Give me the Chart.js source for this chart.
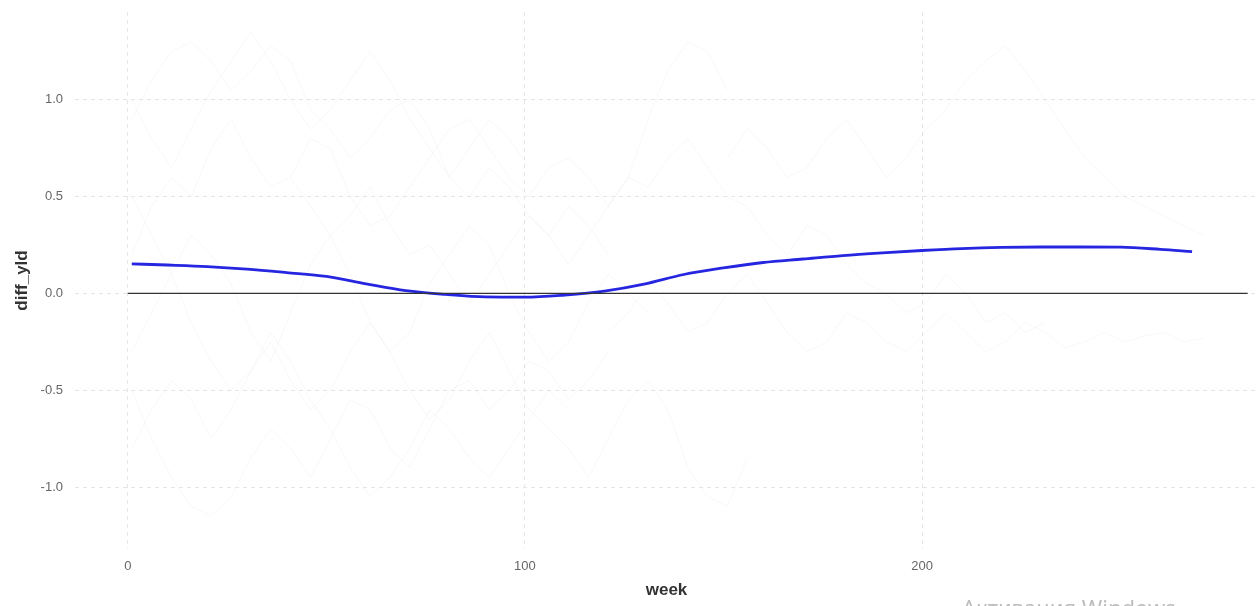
<!DOCTYPE html>
<html>
<head>
<meta charset="utf-8">
<script src="https://cdn.jsdelivr.net/npm/chart.js@4/dist/chart.umd.min.js"></script>
<style>
  html, body { margin: 0; padding: 0; background: #fff; overflow: hidden; }
  #wrap { position: relative; width: 1258px; height: 606px; overflow: hidden; }
  #note { position: absolute; left: 962px; top: 596px; font: 22px/1 "Noto Sans", sans-serif;
          color: #bdbdbd; white-space: nowrap; }
</style>
</head>
<body>
<div id="wrap">
  <canvas id="c" width="1258" height="606"></canvas>
  <div id="note">Активация Windows</div>
</div>
<script>
// Axis ticks
const xTicks = [0, 100, 200];
const yTicks = [-1.0, -0.5, 0.0, 0.5, 1.0];

// Smoothed trend of diff_yld by week
const trendWeeks  = [1, 10, 20, 30, 40, 50, 60, 70, 80, 90, 100, 110, 120, 130, 140,
                     150, 160, 170, 180, 190, 200, 210, 220, 230, 240, 250, 260, 268];
const trendValues = [0.153, 0.147, 0.139, 0.126, 0.108, 0.088, 0.05, 0.015, -0.005, -0.018,
                     -0.019, -0.008, 0.012, 0.048, 0.098, 0.132, 0.16, 0.178, 0.196, 0.21,
                     0.222, 0.232, 0.238, 0.24, 0.24, 0.239, 0.228, 0.216];

// Reference line at zero
const zeroWeeks = [0, 282];
const zeroValues = [0, 0];

// Individual diff_yld paths, sampled every 5 weeks from their first week
const pathStep = 5;
const pathA = { start: 1, values: [0.9,1.1,1.25,1.3,1.2,1.05,1.15,1.28,1.2,0.95,0.85,0.7,0.8,0.95,1.0,0.85,0.6,0.5,0.65,0.55,0.4,0.3,0.45,0.35,0.2] };
const pathB = { start: 1, values: [0.2,0.45,0.6,0.5,0.75,0.9,0.7,0.55,0.6,0.8,0.75,0.5,0.35,0.4,0.55,0.7,0.85,0.9,0.75,0.6,0.5,0.65,0.7,0.6,0.45,0.6,0.9,1.15,1.3,1.25,1.05] };
const pathC = { start: 1, values: [-0.3,-0.1,0.1,0.3,0.2,0.05,-0.2,-0.35,-0.1,0.15,0.3,0.1,-0.15,-0.3,-0.2,0.05,0.2,0.35,0.25,0.0,-0.2,-0.35,-0.25,-0.05,0.1,0.0,-0.1] };
const pathD = { start: 1, values: [-0.5,-0.75,-0.95,-1.1,-1.15,-1.05,-0.85,-0.7,-0.8,-0.95,-0.75,-0.55,-0.6,-0.8,-0.9,-0.7,-0.5,-0.45,-0.6,-0.5,-0.35,-0.4,-0.55,-0.45,-0.3] };
const pathE = { start: 1, values: [0.5,0.3,0.1,-0.15,-0.35,-0.5,-0.4,-0.25,-0.45,-0.6,-0.5,-0.3,-0.15,-0.3,-0.5,-0.65,-0.55,-0.35,-0.2,-0.4,-0.6,-0.7,-0.8,-0.95,-0.75,-0.55,-0.45,-0.6,-0.9,-1.05,-1.1,-0.85] };
const pathF = { start: 41, values: [0.6,0.45,0.3,0.4,0.55,0.35,0.2,0.25,0.1,-0.05,0.1,0.25,0.4,0.3,0.15,0.3,0.45,0.6,0.55,0.7,0.8,0.65,0.5,0.45,0.3,0.2,0.35,0.3,0.15,0.05,0.0,-0.1,-0.05,0.1,0.0,-0.15,-0.1,-0.2,-0.15] };
const pathG = { start: 151, values: [0.7,0.85,0.75,0.6,0.65,0.8,0.9,0.75,0.6,0.7,0.85,0.95,1.1,1.2,1.28,1.15,1.0,0.85,0.7,0.6,0.5,0.45,0.4,0.35,0.3] };
const pathH = { start: 121, values: [-0.2,-0.1,0.05,-0.05,-0.2,-0.15,0.0,0.1,-0.05,-0.2,-0.3,-0.25,-0.1,-0.15,-0.25,-0.3,-0.2,-0.1,-0.2,-0.3,-0.25,-0.15,-0.2,-0.28,-0.25,-0.2,-0.25,-0.22,-0.2,-0.25,-0.23] };
const pathI = { start: 1, values: [1.0,0.8,0.65,0.85,1.05,1.2,1.35,1.2,1.0,0.85,0.95,1.1,1.25,1.1,0.9,0.75,0.6,0.75,0.9,0.8,0.65] };
const pathJ = { start: 1, values: [-0.8,-0.6,-0.45,-0.55,-0.75,-0.6,-0.4,-0.2,-0.35,-0.55,-0.7,-0.9,-1.05,-0.95,-0.8,-0.6,-0.7,-0.85,-0.95,-0.8,-0.65,-0.5,-0.6] };
const paths = [pathA, pathB, pathC, pathD, pathE, pathF, pathG, pathH, pathI, pathJ];

const pair = (xs, ys) => xs.map((x, i) => ({ x, y: ys[i] }));
const pathPoints = p => p.values.map((v, i) => ({ x: p.start + i * pathStep, y: v }));

const datasets = paths.map(p => ({
  data: pathPoints(p),
  borderColor: 'rgba(110,110,110,0.05)',
  borderWidth: 1,
  pointRadius: 0,
  tension: 0
}));
datasets.push({
  data: pair(zeroWeeks, zeroValues),
  borderColor: '#333333',
  borderWidth: 1.2,
  pointRadius: 0
});
datasets.push({
  data: pair(trendWeeks, trendValues),
  borderColor: '#2626e0',
  borderWidth: 2.8,
  pointRadius: 0,
  cubicInterpolationMode: 'monotone'
});

const tickFont = { family: '"Liberation Sans", Arial, sans-serif', size: 13 };
const titleFont = { family: '"Liberation Sans", Arial, sans-serif', size: 17, weight: 'bold' };

// Fixed axis band sizes; tick labels may overhang the plot edges
const fitX = s => { s.height = 57; s.paddingLeft = 0; s.paddingRight = 0; };
const fitY = s => { s.width = 75; s.paddingTop = 0; s.paddingBottom = 0; };

new Chart(document.getElementById('c'), {
  type: 'line',
  data: { datasets },
  options: {
    responsive: false,
    animation: false,
    layout: { padding: { top: 12, right: 0, left: 0, bottom: 0 } },
    plugins: { legend: { display: false }, tooltip: { enabled: false } },
    scales: {
      x: {
        type: 'linear',
        min: -13.3,
        max: 284.6,
        afterBuildTicks: s => { s.ticks = xTicks.map(v => ({ value: v })); },
        afterFit: fitX,
        ticks: { font: tickFont, color: '#666666', padding: 10, maxRotation: 0 },
        grid: { color: '#e6e6e6', lineWidth: 1, drawTicks: false },
        border: { display: false, dash: [4, 4] },
        title: { display: true, text: 'week', font: titleFont, color: '#333333', padding: { top: 0, bottom: 5 } }
      },
      y: {
        min: -1.32,
        max: 1.454,
        afterBuildTicks: s => { s.ticks = yTicks.map(v => ({ value: v })); },
        afterFit: fitY,
        ticks: { font: tickFont, color: '#666666', padding: 12, callback: v => v.toFixed(1) },
        grid: { color: '#e6e6e6', lineWidth: 1, drawTicks: false },
        border: { display: false, dash: [4, 4] },
        title: { display: true, text: 'diff_yld', font: titleFont, color: '#333333', padding: { top: 12, bottom: 0 } }
      }
    }
  }
});
</script>
</body>
</html>
